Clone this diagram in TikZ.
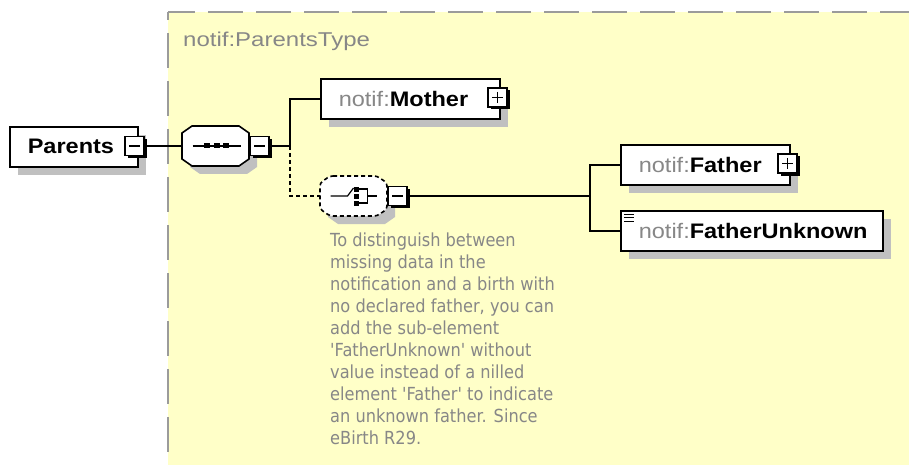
\documentclass[tikz,border=0pt]{standalone}
\usepackage{fontspec}
\usetikzlibrary{shadows}
\newfontfamily\lblfont[FakeStretch=1.12]{Liberation Sans}
\newfontfamily\titlefont[FakeStretch=1.2]{Liberation Sans}
\newfontfamily\notefont[FakeStretch=0.9]{DejaVu Sans}
\definecolor{bgyellow}{RGB}{255,255,200}
\definecolor{framegray}{RGB}{155,155,155}
\definecolor{shadowgray}{RGB}{192,192,192}
\definecolor{nsgray}{RGB}{135,135,135}
\newcommand\nsname[1]{{\color{nsgray}notif:}\textbf{#1}}
\newcommand\octagonpath{(-23.5,-20) -- (23.5,-20) -- (33.5,-13) -- (33.5,13)
  -- (23.5,20) -- (-23.5,20) -- (-33.5,13) -- (-33.5,-13) -- cycle}

\tikzset{
  elembox/.style={rectangle, draw=black, line width=1.6pt, fill=white,
    inner xsep=18pt, inner ysep=0pt, minimum height=40pt, align=left,
    anchor=north west, font=\lblfont\fontsize{21}{24}\selectfont,
    drop shadow={shadow xshift=8pt, shadow yshift=-8pt, fill=shadowgray, opacity=1}},
  compspot/.style={rectangle, inner sep=0pt, minimum width=67pt, minimum height=40pt},
  compline/.style={draw=black, line width=1.6pt, fill=white},
  btn/.style={rectangle, draw=black, line width=1.4pt, fill=white,
    minimum size=19pt, inner sep=0pt,
    drop shadow={shadow xshift=2.5pt, shadow yshift=-2.5pt, fill=black, opacity=1}},
  btnminus/.style={btn, path picture={
    \draw[line width=1.6pt] ([xshift=4pt]path picture bounding box.west)
      -- ([xshift=-4pt]path picture bounding box.east);}},
  btnplus/.style={btn, path picture={
    \draw[line width=1.6pt] ([xshift=4pt]path picture bounding box.west)
      -- ([xshift=-4pt]path picture bounding box.east);
    \draw[line width=1.6pt] ([yshift=-4pt]path picture bounding box.north)
      -- ([yshift=4pt]path picture bounding box.south);}},
  wire/.style={line width=1.6pt},
  dotwire/.style={wire, dash pattern=on 4pt off 3pt},
  framedash/.style={draw=framegray, line width=2.5pt, dash pattern=on 35pt off 13pt}
}

\begin{document}
\begin{tikzpicture}[x=1pt,y=-1pt]
\useasboundingbox (0,0) rectangle (909,465);
\fill[bgyellow] (168,12) rectangle (909,465);
\draw[framedash, dash phase=8pt] (168,12) -- (909,12);
\draw[framedash, dash phase=27pt] (168,12) -- (168,465);
\node[anchor=west, inner sep=0pt, text=nsgray, font=\titlefont\fontsize{20}{24}\selectfont]
  (typename) at (183,41) {notif:ParentsType};

\node[elembox, text width=92pt] (parents) at (9,126) {\textbf{Parents}};
\node[btnminus] (parentsbtn) at (134.5,146) {};

% sequence
\node[compspot] (seq) at (215.5,146) {};
\begin{scope}[shift={(seq.center)}]
  \fill[shadowgray, shift={(8,8)}] \octagonpath;
  \path[compline] \octagonpath;
  \draw[line width=1.3pt] (-23,0) -- (25,0);
  \foreach \dx in {-9,1,10}
    \fill (\dx,0) +(-3,-2.5) rectangle +(3,2.5);
\end{scope}
\node[btnminus] (seqbtn) at (259.5,146) {};

\node[elembox, text width=143pt] (mother) at (320,78) {\nsname{Mother}};
\node[btnplus] (motherbtn) at (497.5,97.5) {};

% choice
\node[compspot] (choice) at (353.5,196) {};
\begin{scope}[shift={(choice.center)}]
  \fill[shadowgray, shift={(8,8)}] \octagonpath;
  \path[compline, dash pattern=on 4pt off 3pt, rounded corners=3pt] \octagonpath;
  \begin{scope}[line width=1.2pt]
    \draw (-23,0) -- (-6,0) -- (0,-8);
    \foreach \dy in {-7,0,7}
      \fill (0,\dy) +(0,-2.5) rectangle +(5,2.5);
    \draw (5,-7) -- (14,-7) -- (14,7) -- (5,7) (14,0) -- (23,0);
  \end{scope}
\end{scope}
\node[btnminus] (choicebtn) at (397.5,196) {};

\node[elembox, text width=133pt] (father) at (620,144) {\nsname{Father}};
\node[btnplus] (fatherbtn) at (787.5,163.5) {};
\node[elembox, text width=226pt] (fatherunk) at (620,210) {\nsname{FatherUnknown}};
\foreach \dy in {4,7.5,11}
  \draw[line width=1pt] ([shift={(4pt,-\dy pt)}]fatherunk.north west) -- ++(10,0);

\node[anchor=north west, inner sep=0pt, align=left, text=nsgray,
  font=\notefont\fontsize{18}{22}\selectfont] (note) at (330,233)
  {To distinguish between\\ missing data in the\\ notification and a birth with\\
   no declared father, you can\\ add the sub-element\\ 'FatherUnknown' without\\
   value instead of a nilled\\ element 'Father' to indicate\\ an unknown father. Since\\
   eBirth R29.};

\coordinate (seqfork) at (290,146);
\coordinate (choicefork) at (590,196);
\draw[wire] (parentsbtn.east) -- (seq.west);
\draw[wire] (seqbtn.east) -- (seqfork) |- (mother.west);
\draw[dotwire] (seqfork) |- (choice.west);
\draw[wire] (choicebtn.east) -- (choicefork) |- (father.west);
\draw[wire] (choicefork) |- (fatherunk.west);
\end{tikzpicture}
\end{document}
